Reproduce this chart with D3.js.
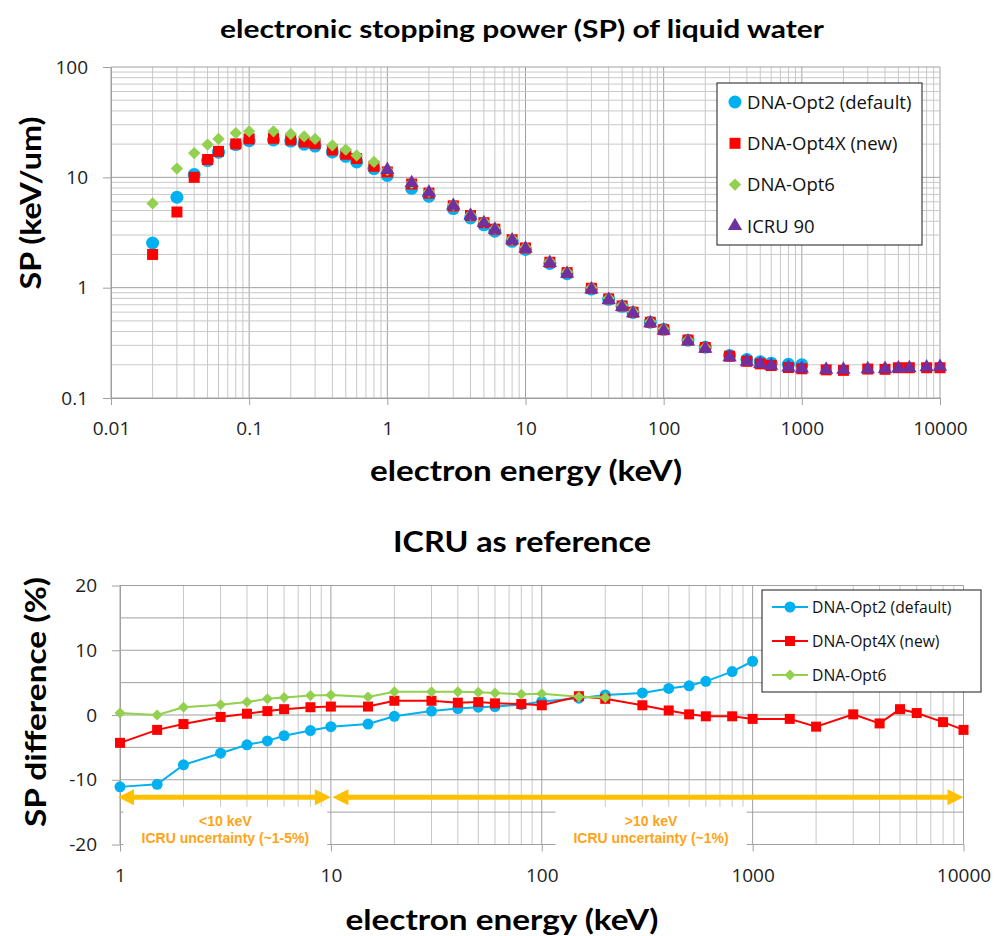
<!DOCTYPE html>
<html>
<head>
    <title>electronic stopping power (SP) of liquid water</title>
    <meta charset="UTF-8">
    <script src="https://d3js.org/d3.v7.min.js"></script>
    <style>
        body {
            margin: 0;
            background-color: #fff;
        }
        svg {
            display: block;
        }
        .tick text {
            font-family: "Open Sans", sans-serif;
            font-size: 19px;
            fill: #1e1e1e;
        }
        .tick line, .domain {
            stroke: #a0a0a0;
        }
        .grid-minor {
            stroke: #c8c8c8;
            stroke-width: 1px;
        }
        .grid-major {
            stroke: #a0a0a0;
            stroke-width: 1px;
        }
        .heading {
            font-family: Lato, sans-serif;
            font-weight: bold;
            fill: #000;
        }
        .legend text {
            font-family: "Open Sans", sans-serif;
            fill: #111;
        }
        .note {
            font-family: "Liberation Sans", Arial, sans-serif;
            font-weight: bold;
            font-size: 14px;
            fill: #ffa318;
            text-anchor: middle;
        }
    </style>
</head>
<body>
    <div id="chart"></div>

    <script>
        // ---- top chart: stopping power (keV/um) vs electron energy (keV)
        var energies = [0.02, 0.03, 0.04, 0.05, 0.06, 0.08, 0.1, 0.15, 0.2, 0.25, 0.3, 0.4, 0.5, 0.6, 0.8,
            1, 1.5, 2, 3, 4, 5, 6, 8, 10, 15, 20, 30, 40, 50, 60, 80, 100, 150, 200, 300, 400, 500, 600, 800,
            1000, 1500, 2000, 3000, 4000, 5000, 6000, 8000, 10000];

        var spOpt2 = [2.54, 6.6, 10.6, 14.2, 16.9, 19.8, 21.5, 21.8, 21.3, 20.0, 19.2, 17.0, 15.5, 13.8, 12.0,
            10.4, 7.95, 6.74, 5.21, 4.29, 3.71, 3.25, 2.63, 2.22, 1.66, 1.34, 0.972, 0.784, 0.678, 0.596, 0.486,
            0.419, 0.334, 0.289, 0.243, 0.223, 0.213, 0.207, 0.202, 0.200,
            null, null, null, null, null, null, null, null];

        var spOpt4X = [2.0, 4.85, 10.0, 14.5, 17.2, 20.1, 22.3, 22.6, 21.9, 20.9, 20.2, 17.7, 16.2, 14.8, 12.6,
            11.2, 8.70, 7.20, 5.52, 4.51, 3.88, 3.39, 2.72, 2.29, 1.70, 1.37, 0.987, 0.791, 0.683, 0.599, 0.486,
            0.416, 0.335, 0.287, 0.239, 0.215, 0.204, 0.197, 0.189, 0.184,
            0.180, 0.178, 0.183, 0.182, 0.188, 0.188, 0.188, 0.188];

        var spOpt6 = [5.8, 12.0, 16.6, 19.8, 22.3, 25.2, 26.1, 26.1, 24.7, 23.5, 22.3, 19.5, 17.8, 15.8, 13.8,
            11.7, 8.9, 7.39, 5.63, 4.59, 3.96, 3.45, 2.77, 2.33, 1.73, 1.39, 1.0, 0.804, 0.693, 0.608, 0.493,
            0.424, 0.335, 0.288,
            null, null, null, null, null, null, null, null, null, null, null, null, null, null];

        var spICRU = [null, null, null, null, null, null, null, null, null, null, null, null, null, null, null,
            11.7, 8.9, 7.3, 5.54, 4.5, 3.86, 3.36, 2.69, 2.26, 1.68, 1.34, 0.966, 0.776, 0.67, 0.588, 0.478,
            0.41, 0.326, 0.28, 0.235, 0.214, 0.204, 0.197, 0.189, 0.185,
            0.181, 0.181, 0.183, 0.184, 0.186, 0.187, 0.19, 0.192];

        var topXTicks = [0.01, 0.1, 1, 10, 100, 1000, 10000];
        var topYTicks = [0.1, 1, 10, 100];

        // ---- bottom chart: % difference to ICRU 90
        var diffEnergies = [1, 1.5, 2, 3, 4, 5, 6, 8, 10, 15, 20, 30, 40, 50, 60, 80, 100, 150, 200, 300,
            400, 500, 600, 800, 1000, 1500, 2000, 3000, 4000, 5000, 6000, 8000, 10000];

        var diffOpt2 = [-11.1, -10.7, -7.7, -5.9, -4.6, -4.0, -3.2, -2.4, -1.8, -1.4, -0.2, 0.6, 1.0, 1.2, 1.3,
            1.6, 2.1, 2.6, 3.1, 3.4, 4.1, 4.5, 5.2, 6.7, 8.3,
            null, null, null, null, null, null, null, null];

        var diffOpt4X = [-4.3, -2.3, -1.4, -0.3, 0.2, 0.6, 0.9, 1.2, 1.3, 1.3, 2.2, 2.2, 1.9, 2.0, 1.8,
            1.7, 1.5, 2.9, 2.5, 1.5, 0.7, 0.1, -0.2, -0.2, -0.6, -0.6, -1.8, 0.1, -1.3, 0.9, 0.3, -1.1, -2.3];

        var diffOpt6 = [0.3, 0.0, 1.2, 1.6, 2.0, 2.5, 2.7, 3.0, 3.1, 2.8, 3.6, 3.6, 3.6, 3.5, 3.4,
            3.2, 3.3, 2.8, 2.7,
            null, null, null, null, null, null, null, null, null, null, null, null, null, null, null];

        var botXTicks = [1, 10, 100, 1000, 10000];
        var botYTicks = [-20, -10, 0, 10, 20];
        var botYGrid = [-20, -15, -10, -5, 0, 5, 10, 15, 20];

        var blue = "#00b0f0", red = "#ff0000", green = "#92d050", purple = "#7030a0", amber = "#ffc000";

        var svg = d3.select("#chart").append("svg")
            .attr("width", 1006)
            .attr("height", 936);

        svg.append("rect").attr("width", 1006).attr("height", 936).attr("fill", "#fff");

        var xTop = d3.scaleLog().domain([0.01, 10000]).range([111, 940]);
        var yTop = d3.scaleLog().domain([0.1, 100]).range([398, 67]);
        var xBot = d3.scaleLog().domain([1, 10000]).range([120, 963.5]);
        var yBot = d3.scaleLinear().domain([-20, 20]).range([844.5, 585.5]);

        // 1..9 x 10^n between lo and hi
        function logSteps(lo, hi) {
            var out = [];
            for (var p = Math.floor(Math.log10(lo)); p <= Math.ceil(Math.log10(hi)); p++) {
                for (var k = 1; k < 10; k++) {
                    var v = +(k * Math.pow(10, p)).toPrecision(3);
                    if (v >= lo && v <= hi) out.push(v);
                }
            }
            return out;
        }
        function isDecade(v) {
            var l = Math.log10(v);
            return Math.abs(l - Math.round(l)) < 1e-6;
        }
        function majorLast(a, b) {
            return (isDecade(a) ? 1 : 0) - (isDecade(b) ? 1 : 0);
        }

        function symbolFor(kind, size) {
            if (kind === "circle") return d3.symbol(d3.symbolCircle, size)();
            if (kind === "triangle") return d3.symbol(d3.symbolTriangle, size)();
            return d3.symbol(d3.symbolSquare, size)();
        }
        function pts(xs, ys) {
            var out = [];
            xs.forEach(function (x, i) { if (ys[i] != null) out.push([x, ys[i]]); });
            return out;
        }

        /* ---------------- top chart ---------------- */
        var gTop = svg.append("g");

        gTop.selectAll(".vgrid").data(logSteps(0.01, 10000).sort(majorLast)).enter().append("line")
            .attr("class", function (d) { return isDecade(d) ? "grid-major" : "grid-minor"; })
            .attr("x1", function (d) { return xTop(d); })
            .attr("x2", function (d) { return xTop(d); })
            .attr("y1", yTop(100)).attr("y2", yTop(0.1));

        gTop.selectAll(".hgrid").data(logSteps(0.1, 100).sort(majorLast)).enter().append("line")
            .attr("class", function (d) { return isDecade(d) ? "grid-major" : "grid-minor"; })
            .attr("x1", xTop(0.01)).attr("x2", xTop(10000))
            .attr("y1", function (d) { return yTop(d); })
            .attr("y2", function (d) { return yTop(d); });

        gTop.append("g")
            .attr("transform", "translate(0," + yTop(0.1) + ")")
            .call(d3.axisBottom(xTop).tickValues(topXTicks).tickSize(7).tickSizeOuter(0).tickPadding(17)
                .tickFormat(function (d) { return String(d); }));

        gTop.append("g")
            .attr("transform", "translate(" + xTop(0.01) + ",0)")
            .call(d3.axisLeft(yTop).tickValues(topYTicks).tickSize(8).tickSizeOuter(0).tickPadding(15)
                .tickFormat(function (d) { return String(d); }));

        var topSeries = [
            { name: "DNA-Opt2 (default)", values: spOpt2, color: blue, shape: "circle", size: 133 },
            { name: "DNA-Opt4X (new)", values: spOpt4X, color: red, shape: "square", size: 121 },
            { name: "DNA-Opt6", values: spOpt6, color: green, shape: "diamond", size: 76 },
            { name: "ICRU 90", values: spICRU, color: purple, shape: "triangle", size: 88 }
        ];

        topSeries.forEach(function (s) {
            gTop.append("g").selectAll("path").data(pts(energies, s.values)).enter().append("path")
                .attr("d", symbolFor(s.shape, s.size))
                .attr("fill", s.color)
                .attr("transform", function (d) {
                    return "translate(" + xTop(d[0]) + "," + yTop(d[1]) + ")" + (s.shape === "diamond" ? " rotate(45)" : "");
                });
        });

        var legTop = gTop.append("g").attr("class", "legend");
        legTop.append("rect")
            .attr("x", 717).attr("y", 83).attr("width", 205).attr("height", 162)
            .attr("fill", "#fff").attr("stroke", "#1a1a1a").attr("stroke-width", 1);
        topSeries.forEach(function (s, i) {
            var ly = 102 + i * 41.3;
            legTop.append("path")
                .attr("d", symbolFor(s.shape, s.size))
                .attr("fill", s.color)
                .attr("transform", "translate(735," + ly + ")" + (s.shape === "diamond" ? " rotate(45)" : ""));
            legTop.append("text")
                .attr("x", 747).attr("y", ly).attr("dy", "0.36em")
                .style("font-size", "18.5px")
                .text(s.name);
        });

        svg.append("text").attr("class", "heading")
            .attr("x", 522).attr("y", 38)
            .attr("text-anchor", "middle")
            .attr("textLength", 604).attr("lengthAdjust", "spacingAndGlyphs")
            .style("font-size", "25px")
            .text("electronic stopping power (SP) of liquid water");

        svg.append("text").attr("class", "heading")
            .attr("transform", "translate(41,203) rotate(-90)")
            .attr("text-anchor", "middle")
            .attr("textLength", 173).attr("lengthAdjust", "spacingAndGlyphs")
            .style("font-size", "28px")
            .text("SP (keV/um)");

        svg.append("text").attr("class", "heading")
            .attr("x", 526).attr("y", 481)
            .attr("text-anchor", "middle")
            .attr("textLength", 312).attr("lengthAdjust", "spacingAndGlyphs")
            .style("font-size", "28px")
            .text("electron energy (keV)");

        /* ---------------- bottom chart ---------------- */
        var gBot = svg.append("g");

        gBot.selectAll(".vgrid").data(logSteps(1, 10000).sort(majorLast)).enter().append("line")
            .attr("class", function (d) { return isDecade(d) ? "grid-major" : "grid-minor"; })
            .attr("x1", function (d) { return xBot(d); })
            .attr("x2", function (d) { return xBot(d); })
            .attr("y1", yBot(20)).attr("y2", yBot(-20));

        gBot.selectAll(".hgrid").data(botYGrid).enter().append("line")
            .attr("class", "grid-major")
            .attr("x1", xBot(1)).attr("x2", xBot(10000))
            .attr("y1", function (d) { return yBot(d); })
            .attr("y2", function (d) { return yBot(d); });

        var xAxisBot = gBot.append("g")
            .attr("transform", "translate(0," + yBot(-20) + ")")
            .call(d3.axisBottom(xBot).tickValues(botXTicks).tickSize(7).tickSizeOuter(0).tickPadding(17)
                .tickFormat(function (d) { return String(d); }));
        xAxisBot.select(".domain").remove();

        gBot.append("g")
            .attr("transform", "translate(" + xBot(1) + ",0)")
            .call(d3.axisLeft(yBot).tickValues(botYTicks).tickSize(8).tickSizeOuter(0).tickPadding(15)
                .tickFormat(function (d) { return String(d); }));

        // uncertainty notes with white boxes that hide the grid under them
        var arrowLevel = -12.7;
        var arrowSpans = [[1, 10], [10, 10000]];
        var noteCenters = [3.16, 330];
        var noteLines = [["<10 keV", "ICRU uncertainty (~1-5%)"], [">10 keV", "ICRU uncertainty (~1%)"]];

        var noteLayer = gBot.append("g");
        noteLines.forEach(function (lines, i) {
            var g = noteLayer.append("g");
            var cx = xBot(noteCenters[i]);
            var y0 = yBot(arrowLevel);
            lines.forEach(function (t, j) {
                g.append("text").attr("class", "note")
                    .attr("x", cx).attr("y", y0 + 29 + j * 17)
                    .text(t);
            });
            var bb = g.node().getBBox();
            g.insert("rect", "text")
                .attr("x", bb.x - 18).attr("y", y0 + 9.5)
                .attr("width", bb.width + 36).attr("height", 48)
                .attr("fill", "#fff");
        });

        var botSeries = [
            { name: "DNA-Opt2 (default)", values: diffOpt2, color: blue, shape: "circle", size: 95 },
            { name: "DNA-Opt4X (new)", values: diffOpt4X, color: red, shape: "square", size: 100 },
            { name: "DNA-Opt6", values: diffOpt6, color: green, shape: "diamond", size: 60 }
        ];

        var line = d3.line()
            .x(function (d) { return xBot(d[0]); })
            .y(function (d) { return yBot(d[1]); });

        botSeries.forEach(function (s) {
            var data = pts(diffEnergies, s.values);
            var g = gBot.append("g");
            g.append("path").datum(data)
                .attr("d", line)
                .attr("fill", "none")
                .attr("stroke", s.color)
                .attr("stroke-width", 2);
            g.selectAll(".mk").data(data).enter().append("path")
                .attr("d", symbolFor(s.shape, s.size))
                .attr("fill", s.color)
                .attr("transform", function (d) {
                    return "translate(" + xBot(d[0]) + "," + yBot(d[1]) + ")" + (s.shape === "diamond" ? " rotate(45)" : "");
                });
        });

        // double-headed arrows
        arrowSpans.forEach(function (span) {
            var xa = span[0] === 10 ? xBot(10) + 1.5 : xBot(span[0]) - 2;
            var xb = xBot(span[1]);
            var y = yBot(arrowLevel), head = 16, half = 8;
            gBot.append("line")
                .attr("x1", xa + head - 2).attr("x2", xb - head + 2)
                .attr("y1", y).attr("y2", y)
                .attr("stroke", amber).attr("stroke-width", 5);
            gBot.append("path")
                .attr("d", "M" + xa + "," + y + "L" + (xa + head) + "," + (y - half) + "L" + (xa + head) + "," + (y + half) + "Z")
                .attr("fill", amber);
            gBot.append("path")
                .attr("d", "M" + xb + "," + y + "L" + (xb - head) + "," + (y - half) + "L" + (xb - head) + "," + (y + half) + "Z")
                .attr("fill", amber);
        });

        var legBot = gBot.append("g").attr("class", "legend");
        legBot.append("rect")
            .attr("x", 762).attr("y", 590).attr("width", 219).attr("height", 102)
            .attr("fill", "#fff").attr("stroke", "#1a1a1a").attr("stroke-width", 1);
        botSeries.forEach(function (s, i) {
            var ly = 607 + i * 34;
            legBot.append("line")
                .attr("x1", 772).attr("x2", 808).attr("y1", ly).attr("y2", ly)
                .attr("stroke", s.color).attr("stroke-width", 2);
            legBot.append("path")
                .attr("d", symbolFor(s.shape, s.size))
                .attr("fill", s.color)
                .attr("transform", "translate(790," + ly + ")" + (s.shape === "diamond" ? " rotate(45)" : ""));
            legBot.append("text")
                .attr("x", 812).attr("y", ly).attr("dy", "0.36em")
                .style("font-size", "15.7px")
                .text(s.name);
        });

        svg.append("text").attr("class", "heading")
            .attr("x", 522).attr("y", 552)
            .attr("text-anchor", "middle")
            .attr("textLength", 258).attr("lengthAdjust", "spacingAndGlyphs")
            .style("font-size", "29px")
            .text("ICRU as reference");

        svg.append("text").attr("class", "heading")
            .attr("transform", "translate(46,702) rotate(-90)")
            .attr("text-anchor", "middle")
            .attr("textLength", 250).attr("lengthAdjust", "spacingAndGlyphs")
            .style("font-size", "28px")
            .text("SP difference (%)");

        svg.append("text").attr("class", "heading")
            .attr("x", 502).attr("y", 930)
            .attr("text-anchor", "middle")
            .attr("textLength", 313).attr("lengthAdjust", "spacingAndGlyphs")
            .style("font-size", "28px")
            .text("electron energy (keV)");
    </script>
</body>
</html>
